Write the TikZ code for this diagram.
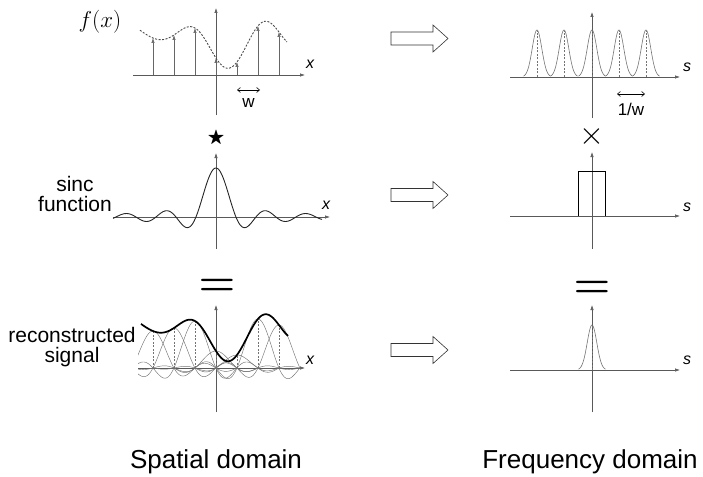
\RequirePackage{fix-cm}
\documentclass[tikz,border=0pt]{standalone}
\usepackage{amssymb}
\usepackage{fontspec}
\setsansfont{Liberation Sans}
\usetikzlibrary{arrows.meta}
\begin{document}
\begin{tikzpicture}[x=1pt,y=-1pt,
  declare function={
    snc(\t)=sin(180*\t+0.5)/(pi*\t+0.0087266);
    rec(\x)=40*snc((\x-111)/21)+50*snc((\x-132)/21)+37*snc((\x-153)/21)+40*snc((\x-174)/21)
           +47*snc((\x-195)/21)+17*snc((\x-216)/21)+13*snc((\x-237)/21)+49*snc((\x-258)/21)
           +43*snc((\x-279)/21)+30*snc((\x-300)/21)+35*snc((\x-321)/21);
    gau(\x,\c)=exp(-((\x-\c)/4.8)^2/2);
  },
  axis/.style={draw=black!65,line width=0.6pt,-{Latex[length=5pt,width=3.4pt]}},
  sample/.style={draw=black!60,line width=0.6pt,-{Latex[length=5pt,width=3.4pt]}},
  hollow/.style={draw=black!80,line width=0.6pt,fill=white},
  lbl/.style={font=\sffamily\fontsize{21}{23}\selectfont,align=center,inner sep=0pt},
  big/.style={font=\sffamily\fontsize{26}{28}\selectfont,inner sep=0pt},
  axlbl/.style={font=\sffamily\itshape\fontsize{16}{16}\selectfont,inner sep=0pt},
  small/.style={font=\sffamily\fontsize{17}{17}\selectfont,inner sep=0pt},
  op/.style={inner sep=0pt},
  gcurve/.style={draw=black!55,line width=0.6pt},
  vdash/.style={draw=black!55,line width=0.5pt,dash pattern=on 2pt off 1.5pt},
  wtip/.style={draw=black,line width=0.6pt,{Straight Barb[length=3pt,width=5pt]}-{Straight Barb[length=3pt,width=5pt]}}
]
\useasboundingbox (0,0) rectangle (703,476);

% ---------------- Row 1 left: sampled signal ----------------
\coordinate (a1l) at (133,75); \coordinate (a1r) at (305,75);
\coordinate (a1b) at (216,115); \coordinate (a1t) at (216,8);
\draw[axis] (a1l) -- (a1r);
\draw[axis] (a1b) -- (a1t);
\node[axlbl] (x1) at (310,64) {x};
\node[op,font=\fontsize{23}{23}\selectfont] (fx) at (100,22) {$f(x)$};
\foreach \px/\h in {153/37,174/40,195/47,216/17,237/13,258/49,279/43}{
  \draw[sample] (\px,75) -- (\px,75-\h);
}
\draw[vdash,draw=black!70,line width=0.9pt] plot[domain=140:287,samples=148] (\x,{75-rec(\x)});
\coordinate (w1) at (237,90); \coordinate (w2) at (260,90);
\draw[wtip] (w1) -- (w2);
\node[small] (wl) at (248.5,103) {w};

% ---------------- Row 1 right: replicated spectrum ----------------
\coordinate (b1l) at (510,77); \coordinate (b1r) at (680,77);
\coordinate (b1b) at (592,118); \coordinate (b1t) at (592,12);
\draw[axis] (b1l) -- (b1r);
\draw[axis] (b1b) -- (b1t);
\node[axlbl] (s1) at (687,67) {s};
\foreach \c in {537,564,592,619,646}{
  \draw[gcurve] plot[domain=\c-13.5:\c+13.5,samples=55] (\x,{77-47*gau(\x,\c)});
  \draw[vdash] (\c,77) -- (\c,31);
}
\coordinate (v1) at (617,94); \coordinate (v2) at (645,94);
\draw[wtip] (v1) -- (v2);
\node[small] (vl) at (631,109) {1/w};

% ---------------- Operators ----------------
\node[op,font=\fontsize{18}{18}\selectfont] (star) at (216,138) {$\bigstar$};
\node[op,font=\fontsize{32}{32}\selectfont] (times) at (592,136) {$\times$};
\node[op,font=\fontsize{42}{42}\selectfont\boldmath] (eq1) at (217,287) {$=$};
\node[op,font=\fontsize{42}{42}\selectfont\boldmath] (eq2) at (592,289) {$=$};

% ---------------- Row 2 left: sinc ----------------
\coordinate (a2l) at (113,217); \coordinate (a2r) at (330,217);
\coordinate (a2b) at (216,249); \coordinate (a2t) at (216,153);
\draw[axis] (a2l) -- (a2r);
\draw[axis] (a2b) -- (a2t);
\node[axlbl] (x2) at (326,205) {x};
\draw[black!85,line width=0.9pt] plot[domain=113:322,samples=210] (\x,{217-49*snc((\x-216)/20)});
\node[lbl] (sinc) at (75,194) {sinc\\[-3pt]function};

% ---------------- Row 2 right: box ----------------
\coordinate (b2l) at (510,216); \coordinate (b2r) at (680,216);
\coordinate (b2b) at (592,249); \coordinate (b2t) at (592,152);
\draw[axis] (b2l) -- (b2r);
\draw[axis] (b2b) -- (b2t);
\node[axlbl] (s2) at (687,207) {s};
\draw[black,line width=0.9pt] (578,216) -- (578,171) -- (605,171) -- (605,216);

% ---------------- Row 3 left: reconstruction ----------------
\coordinate (a3l) at (138,368); \coordinate (a3r) at (305,368);
\coordinate (a3b) at (216,412); \coordinate (a3t) at (216,305);
\draw[axis] (a3l) -- (a3r);
\draw[axis] (a3b) -- (a3t);
\node[axlbl] (x3) at (310,360) {x};
\begin{scope}
  \clip (138,290) rectangle (300,395);
  \foreach \px/\h in {153/37,174/40,195/47,216/17,237/13,258/49,279/43}{
    \draw[gcurve,line width=0.45pt] plot[domain=\px-85:\px+85,samples=171] (\x,{368-\h*snc((\x-\px)/21)});
    \draw[vdash] (\px,368) -- (\px,368-\h);
  }
\end{scope}
\draw[black,line width=1.7pt] plot[domain=141:288,samples=148] (\x,{368-rec(\x)});
\node[lbl] (recon) at (72,347) {reconstructed\\[-3pt]signal};

% ---------------- Row 3 right: lowpassed ----------------
\coordinate (b3l) at (510,370); \coordinate (b3r) at (680,370);
\coordinate (b3b) at (592,412); \coordinate (b3t) at (592,305);
\draw[axis] (b3l) -- (b3r);
\draw[axis] (b3b) -- (b3t);
\node[axlbl] (s3) at (687,360) {s};
\draw[gcurve] plot[domain=578.5:605.5,samples=55] (\x,{370-45*gau(\x,592)});
\draw[vdash] (592,370) -- (592,326);

% ---------------- Hollow arrows ----------------
\foreach \c/\n in {38.5/h1,195/h2,350/h3}{
  \draw[hollow] (391,\c-6.5) -- (433,\c-6.5) -- (433,\c-13.5) -- (448,\c)
     -- (433,\c+13.5) -- (433,\c+6.5) -- (391,\c+6.5) -- cycle;
}

% ---------------- Titles ----------------
\node[big] (sd) at (216,462) {Spatial domain};
\node[big] (fd) at (590,462) {Frequency domain};
\end{tikzpicture}
\end{document}
